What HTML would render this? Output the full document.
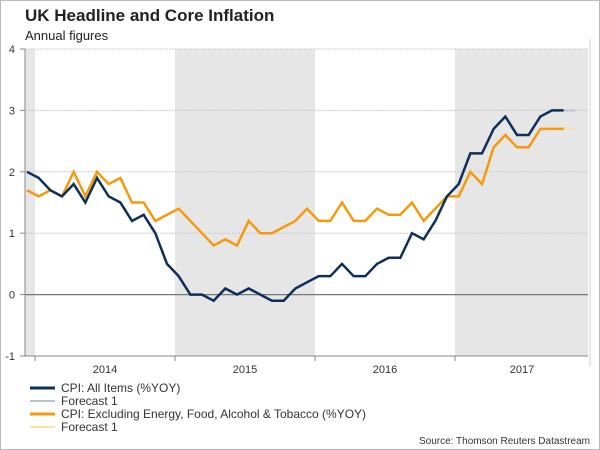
<!DOCTYPE html>
<html><head><meta charset="utf-8"><style>
body{margin:0;background:#fff;font-family:"Liberation Sans",Arial,sans-serif}
svg{display:block}
</style></head><body>
<svg id="c" width="600" height="450" xmlns="http://www.w3.org/2000/svg">
<rect x="0.5" y="0.5" width="599" height="449" fill="#fff" stroke="#bbb"/>
<text x="25" y="21" font-size="17" font-weight="bold" fill="#222">UK Headline and Core Inflation</text>
<text x="25" y="40" font-size="13" fill="#222">Annual figures</text>
<g id="shade"></g><g id="grid"></g><g id="series"></g><g id="axes"></g>
<g>
<line x1="30" y1="388" x2="55" y2="388" stroke="#0e2f5a" stroke-width="3"/>
<text x="61" y="392" font-size="12" fill="#333">CPI: All Items (%YOY)</text>
<line x1="30" y1="401" x2="55" y2="401" stroke="#b7c4d8" stroke-width="2"/>
<text x="61" y="405" font-size="12" fill="#333">Forecast 1</text>
<line x1="30" y1="414" x2="55" y2="414" stroke="#f7990c" stroke-width="3"/>
<text x="61" y="418" font-size="12" fill="#333">CPI: Excluding Energy, Food, Alcohol &amp; Tobacco (%YOY)</text>
<line x1="30" y1="427" x2="55" y2="427" stroke="#fde0b0" stroke-width="2"/>
<text x="61" y="431" font-size="12" fill="#333">Forecast 1</text>
</g>
<text x="590" y="444" font-size="10" fill="#333" text-anchor="end">Source: Thomson Reuters Datastream</text>
</svg>
<script>
// months from Dec 2013
const cpi=[2.0,1.9,1.7,1.6,1.8,1.5,1.9,1.6,1.5,1.2,1.3,1.0,0.5,0.3,0.0,0.0,-0.1,0.1,0.0,0.1,0.0,-0.1,-0.1,0.1,0.2,0.3,0.3,0.5,0.3,0.3,0.5,0.6,0.6,1.0,0.9,1.2,1.6,1.8,2.3,2.3,2.7,2.9,2.6,2.6,2.9,3.0,3.0];
const core=[1.7,1.6,1.7,1.6,2.0,1.6,2.0,1.8,1.9,1.5,1.5,1.2,1.3,1.4,1.2,1.0,0.8,0.9,0.8,1.2,1.0,1.0,1.1,1.2,1.4,1.2,1.2,1.5,1.2,1.2,1.4,1.3,1.3,1.5,1.2,1.4,1.6,1.6,2.0,1.8,2.4,2.6,2.4,2.4,2.7,2.7,2.7];
const cpiForecast=[3.0,3.0];
const coreForecast=[2.7,2.7];
const yTicks=[4,3,2,1,0,-1];
const years=["2014","2015","2016","2017"];
const NS="http://www.w3.org/2000/svg";
const L=25,R=588,T=49,B=356;
const yMin=-1,yMax=4;
function y(v){return B-(v-yMin)/(yMax-yMin)*(B-T);}
const mw=140/12;
function x(i){return 27+i*mw;}
function yearStart(k){return 35+k*140;}
function el(t,a,p){const e=document.createElementNS(NS,t);for(const k in a)e.setAttribute(k,a[k]);document.getElementById(p).appendChild(e);return e;}
// shading
let s=el('rect',{x:L,y:T,width:yearStart(0)-L,height:B-T,fill:'#e6e6e6'},'shade');


s=el('rect',{x:yearStart(1),y:T,width:140,height:B-T,fill:'#e6e6e6'},'shade');


s=el('rect',{x:yearStart(3),y:T,width:R-yearStart(3),height:B-T,fill:'#e6e6e6'},'shade');


// grid and y labels
yTicks.forEach(v=>{
 if(v>yMin){const g=el('line',{x1:L,x2:R,y1:y(v),y2:y(v),stroke:v===0?'#777':'#ccc','stroke-dasharray':v===0?'':'2,1','stroke-width':v===0?1.2:1},'grid');
 
 }
 const t=el('text',{x:15,y:y(v)+4,'font-size':11,fill:'#333','text-anchor':'end'},'axes');t.textContent=v;
 
 
 el('line',{x1:L-5,x2:L,y1:y(v),y2:y(v),stroke:'#888'},'axes');
});
el('line',{x1:L,x2:L,y1:T,y2:B,stroke:'#888'},'axes');
el('line',{x1:L,x2:R,y1:B,y2:B,stroke:'#888'},'axes');
el('line',{x1:R+2,x2:R+2,y1:T-10,y2:B+10,stroke:'#ccc'},'axes');
for(let k=0;k<5;k++){const xx=yearStart(k);if(xx<R)el('line',{x1:xx,x2:xx,y1:B,y2:B+5,stroke:'#888'},'axes');}
years.forEach((yr,k)=>{const t=el('text',{x:yearStart(k)+70-(k===3?3:0),y:373,'font-size':11,fill:'#333','text-anchor':'middle'},'axes');t.textContent=yr;
 
 });
function line(arr,off,color,w,name){
 const p=el('polyline',{points:arr.map((v,i)=>x(i+off)+','+y(v)).join(' '),fill:'none',stroke:color,'stroke-width':w,'stroke-linejoin':'miter'},'series');
 
 
}
line(cpiForecast,cpi.length-1,'#b7c4d8',2,'cpi-forecast-line');
line(coreForecast,core.length-1,'#fde0b0',2,'core-forecast-line');
line(core,0,'#f7990c',2.5,'core-cpi-line');
line(cpi,0,'#0e2f5a',2.5,'cpi-all-items-line');
</script>
</body></html>
